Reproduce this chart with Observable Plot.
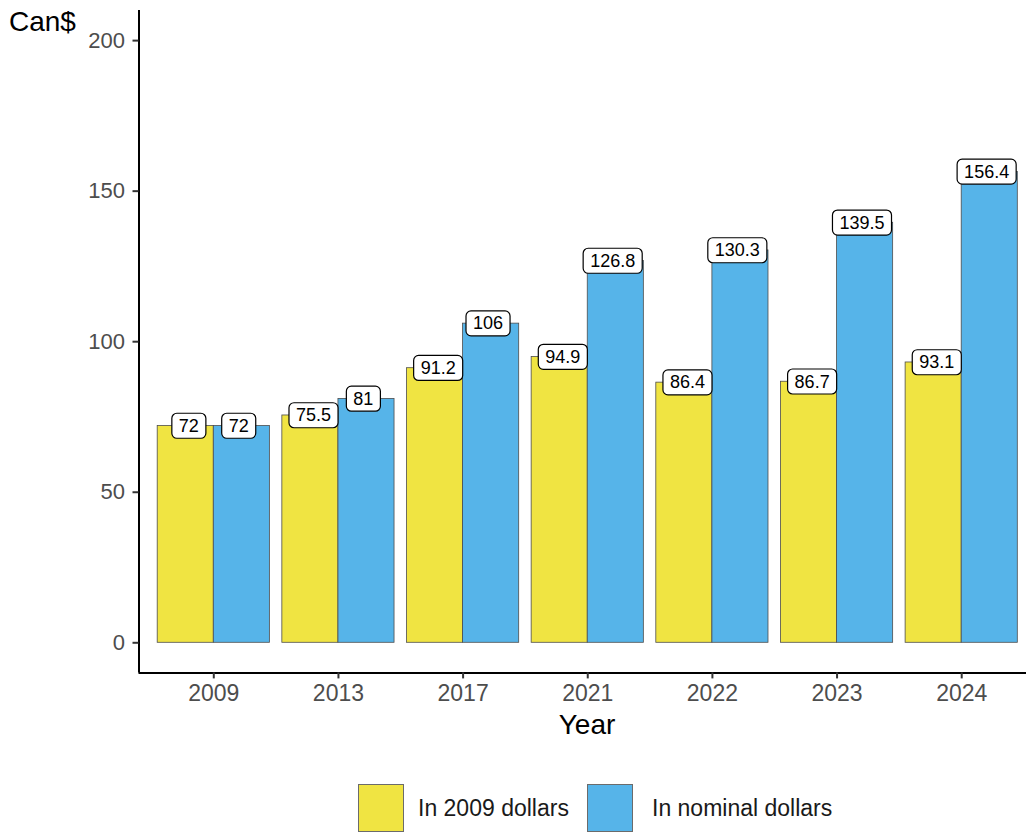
<!DOCTYPE html>
<html>
<head>
<meta charset="utf-8">
<script src="https://cdn.jsdelivr.net/npm/d3@7"></script>
<script src="https://cdn.jsdelivr.net/npm/@observablehq/plot@0.6"></script>
<style>
  html, body { margin: 0; padding: 0; background: #fff; overflow: hidden; }
  #wrap { position: relative; width: 1026px; height: 833px; font-family: "Liberation Sans", Arial, sans-serif; }
  #chart { position: absolute; left: 0; top: 0; }
  #ytitle { position: absolute; left: 9px; top: 6px; font-size: 28px; color: #000; line-height: normal; }
  #xtitle { position: absolute; left: 487px; width: 200px; text-align: center; top: 709px; font-size: 28px; color: #000; line-height: normal; }
  .key { position: absolute; top: 784px; width: 44px; height: 46px; border: 1px solid #6b6b6b; }
  .ktext { position: absolute; top: 784px; height: 48px; line-height: 48px; font-size: 23px; color: #1a1a1a; white-space: nowrap; }
  #chart g[aria-label="y-axis tick label"], #chart g[aria-label="x-axis tick label"],
  #chart g[aria-label="y-axis tick label"] text, #chart g[aria-label="x-axis tick label"] text { fill: #4d4d4d; }
</style>
</head>
<body>
<div id="wrap">
  <div id="chart"></div>
  <div id="ytitle">Can$</div>
  <div id="xtitle">Year</div>
  <div id="legend"></div>
</div>
<script>
// ---- data ----
const years = ["2009", "2013", "2017", "2021", "2022", "2023", "2024"];
const seriesNames = ["In 2009 dollars", "In nominal dollars"];
const realValues = [72, 75.5, 91.2, 94.9, 86.4, 86.7, 93.1];
const nominalValues = [72, 81, 106, 126.8, 130.3, 139.5, 156.4];
const seriesColors = ["#F0E442", "#56B4E9"];
const yTicks = [0, 50, 100, 150, 200];

// long table with ggplot-style dodge (bars: width 0.9, labels: dodge 0.8)
const rows = years.flatMap((year, i) => [
  {year, idx: i + 1, series: seriesNames[0], value: realValues[i], side: -1},
  {year, idx: i + 1, series: seriesNames[1], value: nominalValues[i], side: 1}
]);
rows.forEach(d => {
  d.x1 = d.side < 0 ? d.idx - 0.45 : d.idx;
  d.x2 = d.side < 0 ? d.idx : d.idx + 0.45;
  d.lx = d.idx + d.side * 0.2;
});

const W = 1026, H = 760;
const chart = Plot.plot({
  width: W, height: H,
  marginTop: 10, marginBottom: H - 672.4, marginLeft: 138.5, marginRight: -10,
  style: {fontFamily: '"Liberation Sans", Arial, sans-serif', fontSize: "22px", background: "white", color: "#333"},
  x: {domain: [0.4, 7.6]},
  y: {domain: [-10, 210]},
  color: {domain: seriesNames, range: seriesColors},
  marks: [
    Plot.rectY(rows, {x1: "x1", x2: "x2", y1: 0, y2: "value", fill: "series", stroke: "#4d4d4d", strokeWidth: 0.8}),
    Plot.ruleX([0.4], {stroke: "black", strokeWidth: 2}),
    Plot.ruleY([-10], {stroke: "black", strokeWidth: 2}),
    Plot.axisY({ticks: yTicks, tickSize: 6, tickPadding: 8, label: null, fontSize: 22, strokeWidth: 2}),
    Plot.axisX({ticks: years.map((_, i) => i + 1), tickFormat: i => years[i - 1], tickSize: 6, tickPadding: 6,
      label: null, fontSize: 23, strokeWidth: 2}),
    Plot.text(rows, {x: "lx", y: "value", text: d => String(d.value), fontSize: 18, fill: "black"})
  ]
});
document.getElementById("chart").append(chart);

// rounded white boxes behind value labels (geom_label look)
const ns = "http://www.w3.org/2000/svg";
chart.querySelectorAll('g[aria-label="text"] text').forEach(t => {
  const b = t.getBBox();
  const cy = b.y + b.height / 2;
  const r = document.createElementNS(ns, "rect");
  r.setAttribute("x", b.x - 7);
  r.setAttribute("y", cy - 12.5);
  r.setAttribute("width", b.width + 14);
  r.setAttribute("height", 25);
  r.setAttribute("rx", 5);
  r.setAttribute("fill", "white");
  r.setAttribute("stroke", "black");
  r.setAttribute("stroke-width", 1.2);
  const tr = t.getAttribute("transform");
  if (tr) r.setAttribute("transform", tr);
  t.parentNode.insertBefore(r, t);
});

// legend
const legend = document.getElementById("legend");
const keyLeft = [358, 587], textLeft = [418, 652];
seriesNames.forEach((name, i) => {
  const k = document.createElement("div");
  k.className = "key"; k.style.left = keyLeft[i] + "px"; k.style.background = seriesColors[i];
  const t = document.createElement("div");
  t.className = "ktext"; t.style.left = textLeft[i] + "px"; t.textContent = name;
  legend.append(k, t);
});
</script>
</body>
</html>
